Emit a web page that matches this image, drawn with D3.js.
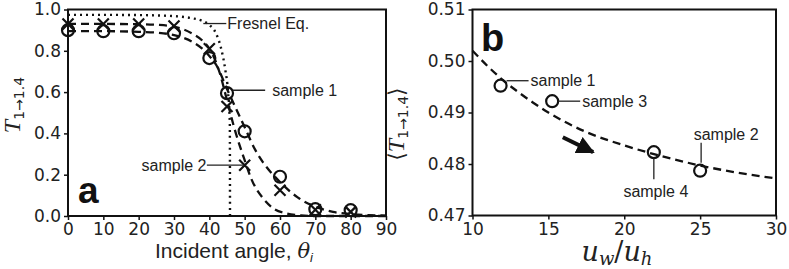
<!DOCTYPE html>
<html><head><meta charset="utf-8">
<script src="https://cdn.jsdelivr.net/npm/d3@7"></script>
<style>
html,body{margin:0;padding:0;background:#fff;}
svg{display:block;}
.tick text{font-family:"DejaVu Sans",sans-serif;font-size:17px;fill:#222;}
.ann{font-family:"Liberation Sans",Arial,sans-serif;font-size:16px;fill:#222;}
</style></head>
<body>
<svg id="c" width="789" height="269"></svg>
<script>
// ---- Panel a data ----
const anglesA = [0,10,20,30,40,45,50,60,70,80];
const sample1T = [0.90,0.895,0.895,0.885,0.765,0.595,0.41,0.19,0.033,0.028];
const sample2T = [0.93,0.93,0.93,0.92,0.81,0.53,0.246,0.125,0.03,0.02];
const fit1Angles = [0,10,20,25,30,35,38,40,42,45,47,50,53,55,60,65,70,75,80,85,90];
const fit1T = [0.895,0.895,0.892,0.888,0.876,0.845,0.81,0.775,0.73,0.615,0.54,0.43,0.32,0.265,0.165,0.09,0.045,0.02,0.009,0.004,0.002];
const fit2Angles = [0,10,20,25,30,35,38,40,42,43,45,47,50,52,55,58,62,66,70,80,90];
const fit2T = [0.93,0.93,0.929,0.926,0.917,0.885,0.85,0.81,0.74,0.69,0.56,0.43,0.27,0.175,0.09,0.038,0.012,0.003,0.0,0.0,0.0];
const fresnelAngles = [0,10,20,30,35,38,40,42,43.5,44.5,45.3,45.8,45.85];
const fresnelT = [0.974,0.974,0.973,0.968,0.958,0.945,0.925,0.88,0.80,0.71,0.60,0.45,0.0];
const xTicksA = [0,10,20,30,40,50,60,70,80,90];
const yTicksA = [0,0.2,0.4,0.6,0.8,1.0];

// ---- Panel b data ----
const ratioB = [11.85,15.25,21.95,25.0];
const meanTB = [0.4952,0.4922,0.4823,0.4787];
const namesB = ["sample 1","sample 3","sample 4","sample 2"];
const fitRatio = [10,11,12,13,14,15,17.5,20,22.5,25,27.5,30];
const fitMean = [0.502,0.4990,0.4963,0.4940,0.4919,0.4900,0.4862,0.4836,0.4815,0.4797,0.4783,0.4772];
const xTicksB = [10,15,20,25,30];
const yTicksB = [0.47,0.48,0.49,0.50,0.51];

const svg = d3.select("#c");
const defs = svg.append("defs");
defs.append("marker").attr("id","ah").attr("viewBox","0 0 10 10").attr("refX",9).attr("refY",5)
  .attr("markerWidth",4.5).attr("markerHeight",4.5).attr("orient","auto").attr("markerUnits","strokeWidth")
  .append("path").attr("d","M0,0L10,5L0,10z").attr("fill","#111");

function frame(g, x0,x1,y0,y1){
  g.append("rect").attr("x",x0).attr("y",y0).attr("width",x1-x0).attr("height",y1-y0)
   .attr("fill","none").attr("stroke","#111").attr("stroke-width",2);
}
function styleAxis(g){
  g.select(".domain").remove();
  g.selectAll(".tick line").attr("stroke","#111").attr("stroke-width",1.5);
}
function circles(g, xs, ys, sx, sy){
  g.selectAll(null).data(xs).join("circle")
   .attr("cx",(d)=>sx(d)).attr("cy",(d,i)=>sy(ys[i])).attr("r",6)
   .attr("fill","none").attr("stroke","#111").attr("stroke-width",2.2);
}
function crosses(g, xs, ys, sx, sy){
  const s=5.5;
  g.selectAll(null).data(xs).join("path")
   .attr("d",(d,i)=>{const cx=sx(d), cy=sy(ys[i]);return `M${cx-s},${cy-s}L${cx+s},${cy+s}M${cx-s},${cy+s}L${cx+s},${cy-s}`;})
   .attr("stroke","#111").attr("stroke-width",2.2).attr("fill","none");
}
function curve(g, xs, ys, sx, sy, dash, w){
  const line = d3.line().x(d=>sx(d[0])).y(d=>sy(d[1])).curve(d3.curveMonotoneX);
  g.append("path").attr("d", line(xs.map((x,i)=>[x,ys[i]])))
   .attr("fill","none").attr("stroke","#111").attr("stroke-width",w).attr("stroke-dasharray",dash);
}
function leader(g,x1,y1,x2,y2){
  g.append("line").attr("x1",x1).attr("y1",y1).attr("x2",x2).attr("y2",y2)
   .attr("stroke","#222").attr("stroke-width",1.3);
}
function ann(g,x,y,t,anchor){
  g.append("text").attr("class","ann").attr("x",x).attr("y",y).attr("text-anchor",anchor||"start").text(t);
}

// ===== Panel a =====
const A = {l:68, r:386, t:9.5, b:216};
const xa = d3.scaleLinear().domain([0,90]).range([A.l,A.r]);
const ya = d3.scaleLinear().domain([0,1]).range([A.b,A.t]);
const ga = svg.append("g");
curve(ga, fresnelAngles, fresnelT, xa, ya, "2,4", 2.4);
curve(ga, fit1Angles, fit1T, xa, ya, "8,5", 2.3);
curve(ga, fit2Angles, fit2T, xa, ya, "8,5", 2.3);
circles(ga, anglesA, sample1T, xa, ya);
crosses(ga, anglesA, sample2T, xa, ya);
frame(ga, A.l,A.r,A.t,A.b);
ga.append("g").attr("transform",`translate(0,${A.b})`)
  .call(d3.axisBottom(xa).tickValues(xTicksA).tickSize(4).tickPadding(3).tickFormat(d3.format("d"))).call(styleAxis);
ga.append("g").attr("transform",`translate(${A.l},0)`)
  .call(d3.axisLeft(ya).tickValues(yTicksA).tickSize(4).tickPadding(3).tickFormat(d3.format(".1f"))).call(styleAxis);
// annotations a
leader(ga, xa(38.3), ya(0.932), xa(44.8), ya(0.932));
ann(ga, xa(45.1), ya(0.932)+5.5, "Fresnel Eq.");
leader(ga, xa(45)+6, ya(0.609), xa(55.8), ya(0.609));
ann(ga, xa(57.8), ya(0.609)+5.5, "sample 1");
leader(ga, xa(39.3), ya(0.246), xa(50)-1, ya(0.246));
ann(ga, xa(39.2), ya(0.246)+5.5, "sample 2", "end");
ga.append("text").attr("x",78).attr("y",203).attr("font-family","Liberation Sans,Arial,sans-serif")
  .attr("font-weight","bold").attr("font-size",37).attr("fill","#111").text("a");
// axis labels a
const xla = ga.append("text").attr("x",234).attr("y",258).attr("text-anchor","middle")
  .attr("font-family","Liberation Sans,Arial,sans-serif").attr("font-size",21).attr("fill","#222");
xla.append("tspan").text("Incident angle, ");
xla.append("tspan").attr("font-family","DejaVu Serif,serif").attr("font-style","italic").text("θ");
xla.append("tspan").attr("font-size",13).attr("dy",4).attr("font-style","italic").text("i");
const yla = ga.append("text").attr("transform","translate(20,105) rotate(-90)").attr("text-anchor","middle")
  .attr("fill","#222");
yla.append("tspan").attr("font-family","Liberation Serif,serif").attr("font-style","italic").attr("font-size",24).text("T");
yla.append("tspan").attr("font-family","DejaVu Sans,sans-serif").attr("font-size",14).attr("dy",4).text("1→1.4");

// ===== Panel b =====
const B = {l:472.5, r:776, t:9.5, b:215.5};
const xb = d3.scaleLinear().domain([10,30]).range([B.l,B.r]);
const yb = d3.scaleLinear().domain([0.47,0.51]).range([B.b,B.t]);
const gb = svg.append("g");
curve(gb, fitRatio, fitMean, xb, yb, "8,5", 2.3);
circles(gb, ratioB, meanTB, xb, yb);
frame(gb, B.l,B.r,B.t,B.b);
gb.append("g").attr("transform",`translate(0,${B.b})`)
  .call(d3.axisBottom(xb).tickValues(xTicksB).tickSize(4).tickPadding(3).tickFormat(d3.format("d"))).call(styleAxis);
gb.append("g").attr("transform",`translate(${B.l},0)`)
  .call(d3.axisLeft(yb).tickValues(yTicksB).tickSize(4).tickPadding(3).tickFormat(d3.format(".2f"))).call(styleAxis);
// annotations b
const p = i => [xb(ratioB[i]), yb(meanTB[i])];
leader(gb, p(0)[0]+6, p(0)[1]-5, p(0)[0]+28, p(0)[1]-5);
ann(gb, p(0)[0]+30, p(0)[1]+0.5, namesB[0]);
leader(gb, p(1)[0]+6, p(1)[1], p(1)[0]+28, p(1)[1]);
ann(gb, p(1)[0]+30, p(1)[1]+5.5, namesB[1]);
leader(gb, p(2)[0], p(2)[1]+6, p(2)[0], p(2)[1]+27);
ann(gb, p(2)[0]+2, p(2)[1]+45, namesB[2], "middle");
leader(gb, p(3)[0]+1, p(3)[1]-8, p(3)[0]+1, p(3)[1]-28);
ann(gb, p(3)[0]+26, p(3)[1]-31, namesB[3], "middle");
gb.append("line").attr("x1",xb(15.95)).attr("y1",yb(0.4852)).attr("x2",xb(17.95)).attr("y2",yb(0.4823))
  .attr("stroke","#111").attr("stroke-width",4).attr("marker-end","url(#ah)");
gb.append("text").attr("x",481).attr("y",51).attr("font-family","Liberation Sans,Arial,sans-serif")
  .attr("font-weight","bold").attr("font-size",38).attr("fill","#111").text("b");
const xlb = gb.append("text").attr("x",617).attr("y",261).attr("text-anchor","middle")
  .attr("font-family","DejaVu Serif,serif").attr("font-style","italic").attr("fill","#222").attr("font-size",27);
xlb.append("tspan").text("u");
xlb.append("tspan").attr("font-size",18).attr("dy",4).text("w");
xlb.append("tspan").attr("dy",-4).attr("font-style","normal").text("/");
xlb.append("tspan").text("u");
xlb.append("tspan").attr("font-size",18).attr("dy",4).text("h");
const ylb = gb.append("text").attr("transform","translate(404,124) rotate(-90)").attr("text-anchor","middle").attr("fill","#222");
ylb.append("tspan").attr("font-family","DejaVu Sans,sans-serif").attr("font-size",22).text("⟨");
ylb.append("tspan").attr("font-family","Liberation Serif,serif").attr("font-style","italic").attr("font-size",24).text("T");
ylb.append("tspan").attr("font-family","DejaVu Sans,sans-serif").attr("font-size",14).attr("dy",4).text("1→1.4");
ylb.append("tspan").attr("font-family","DejaVu Sans,sans-serif").attr("font-size",22).attr("dy",-4).text("⟩");
</script>
</body></html>
